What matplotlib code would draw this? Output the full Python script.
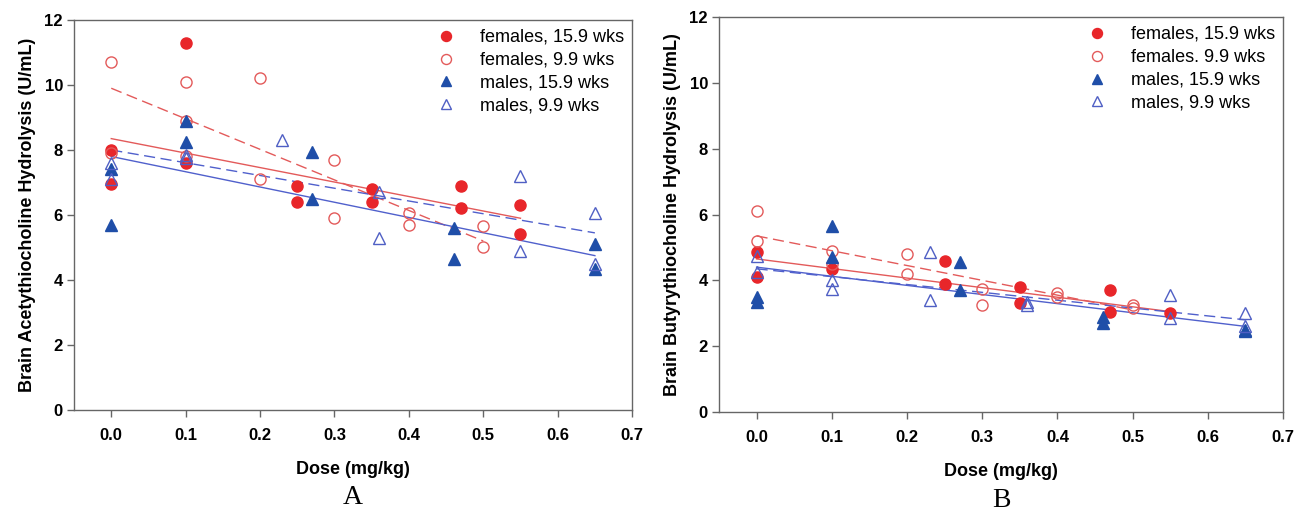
import numpy as np
import matplotlib
matplotlib.use('Agg')
import matplotlib.pyplot as plt

plt.rcParams['font.family'] = ['Liberation Sans', 'DejaVu Sans']

RED = '#e8262a'
RED_LINE = '#e35a5a'
BLUE = '#1f4ea8'
BLUE_OPEN = '#4f5fc4'
BLUE_LINE = '#5060cc'

# Panel A - acetylthiocholine
a_f15_x = [0.0, 0.0, 0.1, 0.1, 0.25, 0.25, 0.35, 0.35, 0.47, 0.47, 0.55, 0.55]
a_f15_y = [8.0, 6.95, 11.3, 7.6, 6.9, 6.4, 6.8, 6.4, 6.9, 6.2, 6.3, 5.4]
a_f9_x = [0.0, 0.0, 0.1, 0.1, 0.1, 0.2, 0.2, 0.3, 0.3, 0.4, 0.4, 0.5, 0.5]
a_f9_y = [10.7, 7.9, 10.1, 8.9, 7.8, 10.2, 7.1, 7.7, 5.9, 6.05, 5.7, 5.65, 5.0]
a_m15_x = [0.0, 0.0, 0.1, 0.1, 0.27, 0.27, 0.46, 0.46, 0.65, 0.65]
a_m15_y = [7.4, 5.7, 8.9, 8.25, 7.95, 6.5, 5.6, 4.65, 5.1, 4.35]
a_m9_x = [0.0, 0.0, 0.1, 0.1, 0.23, 0.36, 0.36, 0.55, 0.55, 0.65, 0.65]
a_m9_y = [7.6, 7.1, 7.85, 7.75, 8.3, 6.7, 5.3, 7.2, 4.9, 6.05, 4.5]
# fitted lines (start y, end y, end x)
a_fit_f15 = (8.35, 5.9, 0.55)
a_fit_f9 = (9.9, 5.2, 0.5)
a_fit_m15 = (7.8, 4.75, 0.65)
a_fit_m9 = (8.0, 5.45, 0.65)

# Panel B - butyrylthiocholine
b_f15_x = [0.0, 0.0, 0.1, 0.25, 0.25, 0.35, 0.35, 0.47, 0.47, 0.55]
b_f15_y = [4.85, 4.1, 4.35, 4.6, 3.9, 3.8, 3.3, 3.7, 3.05, 3.0]
b_f9_x = [0.0, 0.0, 0.1, 0.1, 0.2, 0.2, 0.3, 0.3, 0.4, 0.4, 0.5, 0.5]
b_f9_y = [6.1, 5.2, 4.9, 4.5, 4.8, 4.2, 3.75, 3.25, 3.6, 3.5, 3.25, 3.15]
b_m15_x = [0.0, 0.0, 0.1, 0.1, 0.27, 0.27, 0.46, 0.46, 0.65, 0.65]
b_m15_y = [3.5, 3.35, 5.65, 4.7, 4.55, 3.7, 2.9, 2.7, 2.5, 2.45]
b_m9_x = [0.0, 0.0, 0.1, 0.1, 0.23, 0.23, 0.36, 0.36, 0.55, 0.55, 0.65, 0.65]
b_m9_y = [4.75, 4.25, 4.0, 3.75, 4.85, 3.4, 3.35, 3.25, 3.55, 2.85, 3.0, 2.6]
b_fit_f15 = (4.65, 3.05, 0.55)
b_fit_f9 = (5.35, 3.1, 0.5)
b_fit_m15 = (4.4, 2.6, 0.65)
b_fit_m9 = (4.35, 2.8, 0.65)

x_ticks = [0.0, 0.1, 0.2, 0.3, 0.4, 0.5, 0.6, 0.7]
y_ticks = [0, 2, 4, 6, 8, 10, 12]


def draw_panel(ax, pts, fits, labels, ylabel, letter):
    (f15x, f15y), (f9x, f9y), (m15x, m15y), (m9x, m9y) = pts
    ms = 8
    ax.plot(f15x, f15y, 'o', color=RED, ms=ms, mec=RED, label=labels[0], zorder=3)
    ax.plot(f9x, f9y, 'o', mfc='none', mec=RED_LINE, mew=1.0, ms=ms, label=labels[1], zorder=3)
    ax.plot(m15x, m15y, '^', color=BLUE, ms=ms, mec=BLUE, label=labels[2], zorder=3)
    ax.plot(m9x, m9y, '^', mfc='none', mec=BLUE_OPEN, mew=1.0, ms=ms, label=labels[3], zorder=3)

    styles = [(RED_LINE, '-'), (RED_LINE, (0, (8, 4))), (BLUE_LINE, '-'), (BLUE_LINE, (0, (8, 4)))]
    for (y0, y1, x1), (c, ls) in zip(fits, styles):
        ax.plot([0.0, x1], [y0, y1], color=c, ls=ls, lw=1.0, zorder=2)

    ax.set_xlim(-0.05, 0.7)
    ax.set_ylim(0, 12)
    ax.set_xticks(x_ticks)
    ax.set_xticklabels([f'{t:.1f}' for t in x_ticks])
    ax.set_yticks(y_ticks)
    for sp in ax.spines.values():
        sp.set_color('#666666')
        sp.set_linewidth(1.0)
    ax.tick_params(direction='out', length=5, color='#666666', width=1,
                   labelsize=12, pad=8)
    ax.tick_params(axis='y', pad=3)
    for lab in ax.get_xticklabels() + ax.get_yticklabels():
        lab.set_fontweight('bold')
    ax.set_xlabel('Dose (mg/kg)', fontsize=13, fontweight='bold', labelpad=13)
    ax.set_ylabel(ylabel, fontsize=13, fontweight='bold', labelpad=6)
    ax.text(0.5, -0.225, letter, transform=ax.transAxes, ha='center', va='center',
            fontsize=20, family='Liberation Serif')
    ax.legend(loc='upper right', bbox_to_anchor=(1.0, 0.998), frameon=False,
              fontsize=13, handletextpad=1.4, labelspacing=0.33, markerscale=0.9,
              handlelength=1.0, borderaxespad=0.05)


fig = plt.figure(figsize=(13.13, 5.19), dpi=100)
ax1 = fig.add_axes([0.0564, 0.21, 0.425, 0.7515])
ax2 = fig.add_axes([0.5476, 0.2062, 0.4296, 0.761])

draw_panel(ax1,
           [(a_f15_x, a_f15_y), (a_f9_x, a_f9_y), (a_m15_x, a_m15_y), (a_m9_x, a_m9_y)],
           [a_fit_f15, a_fit_f9, a_fit_m15, a_fit_m9],
           ['females, 15.9 wks', 'females, 9.9 wks', 'males, 15.9 wks', 'males, 9.9 wks'],
           'Brain Acetythiocholine Hydrolysis (U/mL)', 'A')
draw_panel(ax2,
           [(b_f15_x, b_f15_y), (b_f9_x, b_f9_y), (b_m15_x, b_m15_y), (b_m9_x, b_m9_y)],
           [b_fit_f15, b_fit_f9, b_fit_m15, b_fit_m9],
           ['females, 15.9 wks', 'females. 9.9 wks', 'males, 15.9 wks', 'males, 9.9 wks'],
           'Brain Butyrythiocholine Hydrolysis (U/mL)', 'B')

fig.savefig('out.png', dpi=100)
